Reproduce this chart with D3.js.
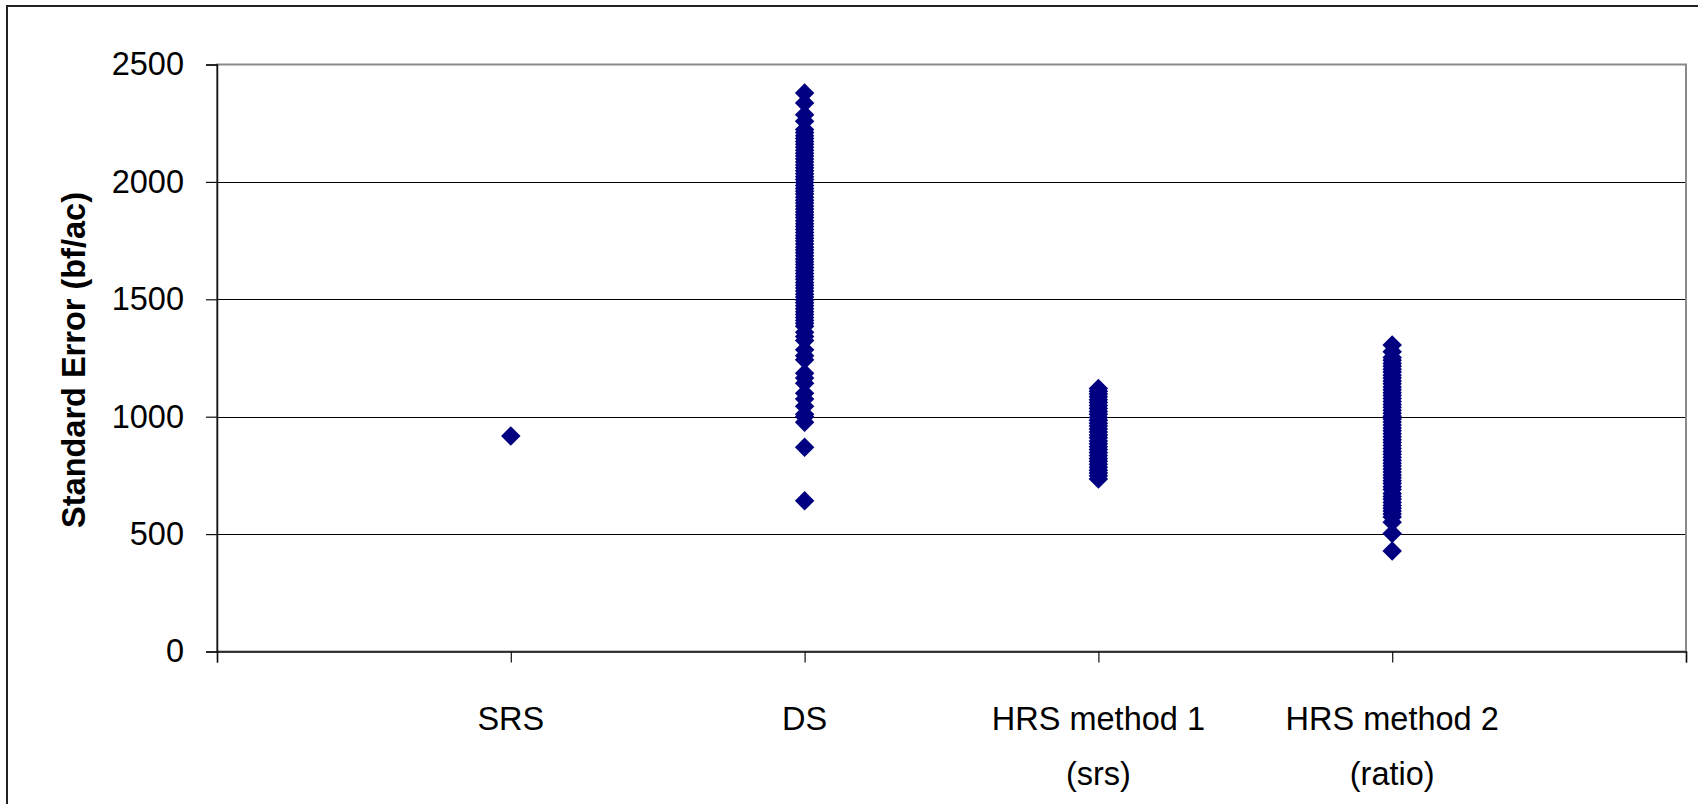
<!DOCTYPE html>
<html>
<head>
<meta charset="utf-8">
<script src="https://cdn.jsdelivr.net/npm/d3@7/dist/d3.min.js"></script>
<style>
  html, body { margin: 0; padding: 0; background: #fff; }
  svg { display: block; }
  text { font-family: "Liberation Sans", Arial, sans-serif; fill: #000; }
</style>
</head>
<body>
<svg id="chart" width="1698" height="804"></svg>
<script>
// Sampling designs shown along the x axis (one column of points each)
const categories = ["SRS", "DS", "HRS method 1 (srs)", "HRS method 2 (ratio)"];
const categoryLines = [["SRS"], ["DS"], ["HRS method 1", "(srs)"], ["HRS method 2", "(ratio)"]];

// Standard error (bf/ac) per simulated sample
const srsValues = [918];
const dsValues = [
  642, 870,
  976, 1000, 1010, 1045, 1075, 1100, 1142, 1165, 1185, 1243, 1260, 1285, 1325, 1342, 1360,
  1385, 1398, 1410, 1422, 1435, 1447, 1460, 1472, 1485, 1497, 1510, 1522, 1535, 1548,
  1560, 1572, 1585, 1597, 1610, 1623, 1635, 1648, 1660, 1672, 1685, 1698, 1710, 1722,
  1735, 1748, 1760, 1772, 1785, 1797, 1810, 1822, 1835, 1848, 1860, 1872, 1885, 1897,
  1910, 1922, 1935, 1948, 1960, 1972, 1985, 1997, 2010, 2022, 2035, 2048, 2060, 2072,
  2085, 2097, 2110, 2122, 2135, 2148, 2160, 2172, 2185, 2197, 2210, 2223,
  2258, 2286, 2336, 2379
];
const hrs1Values = [
  735, 748, 760, 772, 785, 797, 810, 822, 835, 848, 860, 872, 885, 897, 910, 922,
  935, 948, 960, 972, 985, 997, 1010, 1022, 1035, 1048, 1060, 1072, 1085, 1097,
  1108, 1120
];
const hrs2Values = [
  428, 503, 551, 573, 586, 598, 610, 622, 635, 648, 660, 673, 690, 702, 715, 727,
  740, 752, 765, 777, 790, 802, 815, 827, 840, 852, 865, 877, 890, 902, 915, 927,
  940, 952, 965, 977, 990, 1002, 1015, 1027, 1040, 1052, 1065, 1077, 1090, 1102,
  1115, 1127, 1140, 1152, 1165, 1177, 1190, 1202, 1215, 1227, 1240, 1252, 1277, 1305
];
const seriesValues = [srsValues, dsValues, hrs1Values, hrs2Values];

// Axis ticks
const yTicks = [0, 500, 1000, 1500, 2000, 2500];
const xTicks = [0, 1, 2, 3, 4, 5];
const yTitle = "Standard Error (bf/ac)";

const svg = d3.select("#chart");
const plot = { left: 217, right: 1686, top: 64.5, bottom: 651.5 };
const labelFont = 32.5;

const x = d3.scaleLinear().domain([0, 5]).range([plot.left, plot.right]);
const y = d3.scaleLinear().domain([0, 2500]).range([plot.bottom, plot.top]);

// Outer chart frame (runs past the right and bottom edges)
svg.append("rect")
  .attr("x", 7).attr("y", 6)
  .attr("width", 1720).attr("height", 830)
  .attr("fill", "none").attr("stroke", "#222").attr("stroke-width", 2);

// Horizontal gridlines
svg.append("g")
  .selectAll("line")
  .data(yTicks.filter(t => t > 0 && t < 2500))
  .join("line")
  .attr("x1", plot.left).attr("x2", plot.right)
  .attr("y1", d => Math.round(y(d)) + 0.5).attr("y2", d => Math.round(y(d)) + 0.5)
  .attr("stroke", "#000").attr("stroke-width", 1);

// Plot area border
svg.append("rect")
  .attr("x", plot.left).attr("y", plot.top)
  .attr("width", plot.right - plot.left).attr("height", plot.bottom - plot.top)
  .attr("fill", "none").attr("stroke", "#8a8a8a").attr("stroke-width", 2);

// Y axis
const yAxis = svg.append("g")
  .attr("transform", `translate(${plot.left},0)`)
  .call(d3.axisLeft(y).tickValues(yTicks).tickSize(11).tickPadding(22).tickFormat(d3.format("d")));
yAxis.select(".domain").attr("stroke", "#111").attr("stroke-width", 1.5);
yAxis.selectAll(".tick line").attr("stroke", "#111").attr("stroke-width", 1.2);
yAxis.selectAll(".tick text")
  .attr("font-size", labelFont)
  .attr("font-family", "Liberation Sans, Arial, sans-serif")
  .attr("fill", "#000");

// X axis (ticks only, labels placed below as wrapped text)
const xAxis = svg.append("g")
  .attr("transform", `translate(0,${plot.bottom})`)
  .call(d3.axisBottom(x).tickValues(xTicks).tickSize(11).tickFormat(""));
xAxis.select(".domain").attr("stroke", "#111").attr("stroke-width", 1.5);
xAxis.selectAll(".tick line").attr("stroke", "#111").attr("stroke-width", 1.2);

// Category labels
const labels = svg.append("g")
  .selectAll("text")
  .data(categoryLines)
  .join("text")
  .attr("text-anchor", "middle")
  .attr("font-size", labelFont)
  .attr("transform", (d, i) => `translate(${x(i + 1)},730)`);
labels.selectAll("tspan")
  .data(d => d)
  .join("tspan")
  .attr("x", 0)
  .attr("y", (d, j) => j * 55)
  .text(d => d);

// Y axis title
svg.append("text")
  .attr("transform", `translate(85,360) rotate(-90)`)
  .attr("text-anchor", "middle")
  .attr("font-size", 32.5)
  .attr("font-weight", "bold")
  .text(yTitle);

// Points: navy diamonds
const diamond = d3.symbol().type(d3.symbolSquare).size(190);
const points = seriesValues.flatMap((vals, i) => vals.map(v => ({ cat: categories[i], xi: i + 1, v })));
svg.append("g")
  .selectAll("path")
  .data(points)
  .join("path")
  .attr("d", diamond)
  .attr("transform", d => `translate(${x(d.xi)},${y(d.v)}) rotate(45)`)
  .attr("fill", "#000080");
</script>
</body>
</html>
